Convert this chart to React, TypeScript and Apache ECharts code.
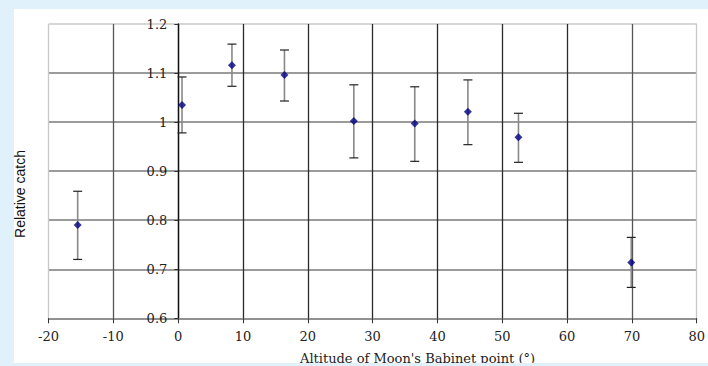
import React, { useEffect, useRef } from "react";
import * as echarts from "echarts";

const altitude = [-15.5, 0.6, 8.3, 16.4, 27.1, 36.5, 44.7, 52.5, 69.9];
const relCatch = [0.79, 1.035, 1.116, 1.096, 1.002, 0.997, 1.021, 0.969, 0.714];
const errHigh = [0.859, 1.092, 1.159, 1.147, 1.076, 1.072, 1.086, 1.018, 0.765];
const errLow = [0.72, 0.978, 1.073, 1.043, 0.927, 0.92, 0.954, 0.918, 0.663];

const xTitle = "Altitude of Moon's Babinet point (°)";
const yTitle = "Relative catch";

const SERIF = "'DejaVu Serif', serif";

export default function App() {
  const ref = useRef<HTMLDivElement>(null);
  useEffect(() => {
    if (!ref.current) return;
    const chart = echarts.init(ref.current, null, { renderer: "svg" });
    const points = altitude.map((x, i) => [x, relCatch[i]]);
    const errs = altitude.map((x, i) => [x, errLow[i], errHigh[i]]);
    const vColors = ["#c8c8c8", "#555", "#2a2a2a", "#2a2a2a", "#2a2a2a", "#2a2a2a", "#2a2a2a", "#2a2a2a", "#2a2a2a", "#555", "#c8c8c8"];
    const hColors = ["#8a8a8a", "#7a7a7a", "#7a7a7a", "#7a7a7a", "#7a7a7a", "#7a7a7a", "#c8c8c8"];
    chart.setOption({
      animation: false,
      backgroundColor: "#e0f1fb",
      graphic: [
        { type: "rect", shape: { x: 14, y: 9, width: 694, height: 354 }, style: { fill: "#ffffff" }, z: -10 },
        {
          type: "text",
          x: 19.5,
          y: 194,
          rotation: Math.PI / 2,
          style: { text: yTitle, font: "14px 'Liberation Sans', Arial, sans-serif", fill: "#111", align: "center", verticalAlign: "middle" },
        },
        {
          type: "text",
          x: 300,
          y: 358,
          style: { text: xTitle, font: `13px ${SERIF}`, fill: "#222", align: "left", verticalAlign: "middle" },
        },
        { type: "rect", shape: { x: 0, y: 363, width: 708, height: 3 }, style: { fill: "#e0f1fb" }, z: 100 },
      ],
      grid: { left: 48.5, right: 10.3, top: 24, bottom: 47.7, containLabel: false },
      xAxis: {
        type: "value",
        min: -20,
        max: 80,
        interval: 10,
        axisLine: { show: true, onZero: false, lineStyle: { color: "#8a8a8a", width: 1.5 } },
        axisTick: { show: true, length: 5, lineStyle: { color: "#333" } },
        axisLabel: { margin: 12, fontFamily: SERIF, fontSize: 13, color: "#222" },
        splitLine: { show: true, lineStyle: { color: vColors, width: 1.3 } },
      },
      yAxis: {
        type: "value",
        min: 0.6,
        max: 1.2,
        interval: 0.1,
        offset: -129.8,
        axisLine: { show: true, onZero: false, lineStyle: { color: "#111", width: 1.3 } },
        axisTick: { show: true, length: 4, lineStyle: { color: "#333" } },
        axisLabel: { margin: 11, fontFamily: SERIF, fontSize: 13, color: "#222", formatter: (v: number) => String(Math.round(v * 10) / 10) },
        splitLine: { show: true, lineStyle: { color: hColors, width: 1.6 } },
      },
      series: [
        {
          type: "custom",
          data: errs,
          z: 3,
          renderItem: (params: any, api: any) => {
            const x = api.value(0);
            const lo = api.coord([x, api.value(1)]);
            const hi = api.coord([x, api.value(2)]);
            const cap = 4.5;
            return {
              type: "group",
              children: [
                { type: "line", shape: { x1: lo[0], y1: lo[1], x2: hi[0], y2: hi[1] }, style: { stroke: "#888", lineWidth: 1.6 } },
                { type: "line", shape: { x1: lo[0] - cap, y1: lo[1], x2: lo[0] + cap, y2: lo[1] }, style: { stroke: "#222", lineWidth: 1.2 } },
                { type: "line", shape: { x1: hi[0] - cap, y1: hi[1], x2: hi[0] + cap, y2: hi[1] }, style: { stroke: "#222", lineWidth: 1.2 } },
              ],
            };
          },
        },
        {
          type: "scatter",
          data: points,
          symbol: "diamond",
          symbolSize: 8,
          z: 5,
          itemStyle: { color: "#000080" },
        },
      ],
    });
    return () => chart.dispose();
  }, []);
  return <div ref={ref} style={{ width: 708, height: 366, position: "absolute", left: 0, top: 0 }} />;
}
